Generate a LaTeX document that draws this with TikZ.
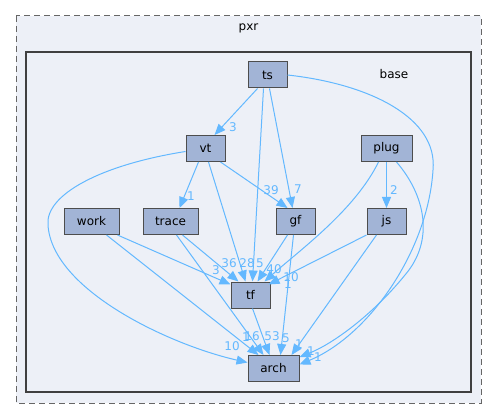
\documentclass[tikz,border=0pt]{standalone}
\usepackage{fontspec}
\setmainfont{DejaVu Sans}
\usetikzlibrary{arrows.meta,calc}
\definecolor{edgeblue}{HTML}{63B8FF}
\definecolor{nodefill}{HTML}{A2B4D6}
\definecolor{nodeline}{HTML}{4D4D4D}
\definecolor{clusterfill}{HTML}{EDF0F7}
\definecolor{clusterline}{HTML}{404040}
\tikzset{
  dirnode/.style={draw=nodeline, fill=nodefill, line width=1pt, minimum height=26pt, inner sep=0pt, font=\fontsize{12}{14}\selectfont},
  dep/.style={draw=edgeblue, line width=1pt, -{Triangle[length=11pt,width=9pt]}},
  lbl/.style={text=edgeblue, font=\fontsize{12}{14}\selectfont, inner sep=0pt},
  clabel/.style={font=\fontsize{12}{14}\selectfont, inner sep=0pt}
}
\begin{document}
\begin{tikzpicture}[x=1pt,y=-1pt]
\useasboundingbox (0,0) rectangle (497,419);
% clusters
\draw[draw=black!60, fill=clusterfill, line width=1pt, dash pattern=on 6pt off 4pt] (16,16) rectangle (481,403);
\node[clabel] (pxrlbl) at (248.5,28) {pxr};
\draw[draw=clusterline, fill=clusterfill, line width=2pt] (26,52) rectangle (471,392);
\node[clabel] (baselbl) at (394,74) {base};
% nodes
\node[dirnode, minimum width=39pt] (ts) at (267.5,75) {ts};
\node[dirnode, minimum width=39pt] (vt) at (205.5,148.5) {vt};
\node[dirnode, minimum width=51pt] (plug) at (386.5,148.5) {plug};
\node[dirnode, minimum width=55pt] (work) at (91.5,221.5) {work};
\node[dirnode, minimum width=55pt] (trace) at (170.5,221.5) {trace};
\node[dirnode, minimum width=39pt] (gf) at (295.5,221.5) {gf};
\node[dirnode, minimum width=39pt] (js) at (386.5,221.5) {js};
\node[dirnode, minimum width=39pt] (tf) at (250.5,295) {tf};
\node[dirnode, minimum width=51pt] (arch) at (273.5,368.5) {arch};
% edges from ts
\draw[dep] ($(ts.south)+(-10,0)$) -- ($(vt.north)+(9,0)$);
\draw[dep] ($(ts.south)+(-4,0)$) -- ($(tf.north)+(2,0)$);
\draw[dep] ($(ts.south)+(2,0)$) -- ($(gf.north)+(-3,0)$);
\draw[dep] (ts.east) .. controls (370,84) and (438,118) .. (433,170) .. controls (428,250) and (370,335) .. ($(arch.east)+(0,-4)$);
% edges from vt
\draw[dep] ($(vt.south)+(-7,0)$) -- ($(trace.north)+(9,0)$);
\draw[dep] ($(vt.south)+(3,0)$) -- ($(tf.north)+(-5,0)$);
\draw[dep] ($(vt.south east)+(-5,0)$) -- ($(gf.north)+(-8,0)$);
\draw[dep] ($(vt.west)+(0,3)$) .. controls (100,165) and (45,195) .. (48,225) .. controls (52,290) and (170,345) .. ($(arch.west)+(0,-6)$);
% edges from plug
\draw[dep] (plug.south) -- (js.north);
\draw[dep] ($(plug.south)+(-8,0)$) .. controls (355,210) and (300,250) .. ($(tf.north east)+(-6,0)$);
\draw[dep] ($(plug.south)+(10,0)$) .. controls (425,195) and (435,240) .. (405,275) .. controls (370,318) and (330,345) .. ($(arch.north east)+(0,2)$);
% edges from work
\draw[dep] ($(work.south east)+(-2,0)$) -- ($(tf.north west)+(0,3)$);
\draw[dep] ($(work.south)+(15,0)$) -- ($(arch.north)+(-15,0)$);
% edges from trace
\draw[dep] ($(trace.south)+(12,0)$) -- ($(tf.north)+(-12,0)$);
\draw[dep] ($(trace.south)+(6,0)$) -- ($(arch.north)+(-10,0)$);
% edges from gf
\draw[dep] ($(gf.south)+(-8,0)$) -- ($(tf.north)+(7,0)$);
\draw[dep] ($(gf.south)+(-2,0)$) -- ($(arch.north)+(7,0)$);
% edges from js
\draw[dep] (js.south west) -- ($(tf.north east)+(-2,3)$);
\draw[dep] ($(js.south)+(-10,0)$) -- ($(arch.north east)+(-8,0)$);
% edge from tf
\draw[dep] ($(tf.south)+(2,0)$) -- ($(arch.north)+(-4,0)$);
% labels
\node[lbl] (l1) at (233,127) {3};
\node[lbl] (l2) at (298,189) {7};
\node[lbl] (l3) at (271,190) {39};
\node[lbl] (l4) at (191,196) {1};
\node[lbl] (l5) at (394,190) {2};
\node[lbl] (l6) at (216,270) {3};
\node[lbl] (l7) at (229,263) {36};
\node[lbl] (l8) at (247,263) {28};
\node[lbl] (l9) at (260,263) {5};
\node[lbl] (l10) at (274,269) {40};
\node[lbl] (l11) at (291,277) {10};
\node[lbl] (l12) at (288,284) {1};
\node[lbl] (l13) at (232,346) {10};
\node[lbl] (l14) at (246,337) {1};
\node[lbl] (l15) at (252,336) {16};
\node[lbl] (l16) at (272,336) {53};
\node[lbl] (l17) at (286,338) {5};
\node[lbl] (l18) at (299,344) {1};
\node[lbl] (l19) at (311,351) {1};
\node[lbl] (l20) at (318,357) {1};
\end{tikzpicture}
\end{document}
